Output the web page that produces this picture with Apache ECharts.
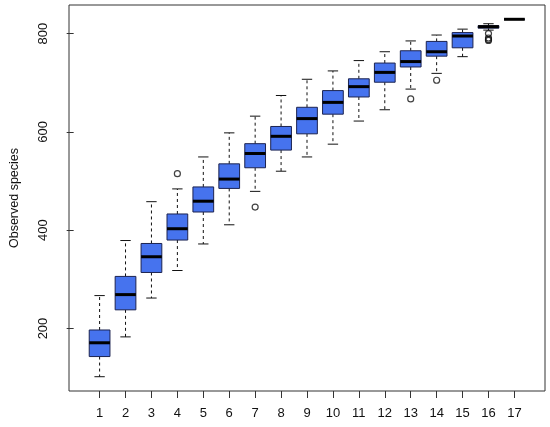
<!DOCTYPE html>
<html>
<head>
<meta charset="utf-8">
<script src="https://cdn.jsdelivr.net/npm/echarts@6/dist/echarts.min.js"></script>
<style>
  html, body { margin: 0; padding: 0; background: #fff; }
  #chart { width: 550px; height: 427px; }
</style>
</head>
<body>
<div id="chart"></div>
<script>
// samples (x positions) and five-number summaries
var categories = [1, 2, 3, 4, 5, 6, 7, 8, 9, 10, 11, 12, 13, 14, 15, 16, 17];
var lowWhisker = [102, 183, 262, 318, 372, 411, 479, 520, 549, 575, 622, 645, 687, 719, 753, 807, 829];
var lowerQuart = [143, 238, 314, 380, 437, 485, 527, 563, 596, 636, 671, 701, 732, 754, 771, 811, 829];
var medians    = [171, 269, 346, 403, 459, 504, 556, 591, 627, 660, 692, 721, 743, 763, 795, 814, 829];
var upperQuart = [197, 306, 373, 433, 488, 535, 576, 611, 650, 684, 708, 740, 765, 784, 802, 816, 829];
var highWhisker = [267, 379, 458, 484, 549, 598, 632, 674, 707, 724, 745, 763, 785, 797, 809, 820, 829];
var outlierX = [4, 7, 13, 14, 16, 16, 16, 16];
var outlierY = [515, 447, 667, 705, 800, 791, 788, 786];
var yTicks = [200, 400, 600, 800];

var boxWex = 0.8;

var boxData = categories.map(function (c, i) {
  return [c, lowWhisker[i], lowerQuart[i], medians[i], upperQuart[i], highWhisker[i]];
});
var outlierData = outlierX.map(function (x, i) { return [x, outlierY[i]]; });

// axis ranges like R: data range padded by 4%
var allY = lowWhisker.concat(highWhisker, outlierY);
var yLo = Math.min.apply(null, allY), yHi = Math.max.apply(null, allY);
var yPad = (yHi - yLo) * 0.04;
var xPad = categories.length * 0.04;

function renderBox(params, api) {
  var x = api.value(0);
  var lo = api.coord([x, api.value(1)]);
  var q1 = api.coord([x, api.value(2)]);
  var md = api.coord([x, api.value(3)]);
  var q3 = api.coord([x, api.value(4)]);
  var hi = api.coord([x, api.value(5)]);
  var w = api.size([boxWex, 0])[0];
  var cx = md[0];
  var dash = { stroke: '#111', lineWidth: 1, lineDash: [3, 3] };
  var solid = { stroke: '#111', lineWidth: 1 };
  return {
    type: 'group',
    children: [
      { type: 'line', shape: { x1: cx, y1: q3[1], x2: cx, y2: hi[1] }, style: dash },
      { type: 'line', shape: { x1: cx, y1: q1[1], x2: cx, y2: lo[1] }, style: dash },
      { type: 'line', shape: { x1: cx - w / 4, y1: hi[1], x2: cx + w / 4, y2: hi[1] }, style: solid },
      { type: 'line', shape: { x1: cx - w / 4, y1: lo[1], x2: cx + w / 4, y2: lo[1] }, style: solid },
      { type: 'rect', shape: { x: cx - w / 2, y: q3[1], width: w, height: q1[1] - q3[1] },
        style: { fill: '#4673ee', stroke: '#1c2350', lineWidth: 1 } },
      { type: 'line', shape: { x1: cx - w / 2, y1: md[1], x2: cx + w / 2, y2: md[1] },
        style: { stroke: '#000', lineWidth: 3 } }
    ]
  };
}

var chart = echarts.init(document.getElementById('chart'));
chart.setOption({
  animation: false,
  textStyle: { fontFamily: 'Liberation Sans, Arial, sans-serif' },
  grid: {
    left: 60, right: 5, top: 5, bottom: 36,
    show: true, borderColor: '#333', borderWidth: 1, backgroundColor: '#fff'
  },
  xAxis: {
    type: 'value',
    min: 0.5 - xPad,
    max: categories.length + 0.5 + xPad,
    splitLine: { show: false },
    axisLine: { show: false },
    axisTick: { show: true, length: 7, lineStyle: { color: '#333' }, customValues: categories },
    axisLabel: { color: '#111', fontSize: 13, margin: 16, customValues: categories }
  },
  yAxis: {
    type: 'value',
    min: yLo - yPad,
    max: yHi + yPad,
    name: 'Observed species',
    nameLocation: 'middle',
    nameRotate: 90,
    nameGap: 48,
    nameTextStyle: { color: '#111', fontSize: 12.5 },
    splitLine: { show: false },
    axisLine: { show: false },
    axisTick: { show: true, length: 7, lineStyle: { color: '#333' }, customValues: yTicks },
    axisLabel: { color: '#111', fontSize: 13, rotate: 90, margin: 19, customValues: yTicks }
  },
  series: [
    {
      type: 'custom',
      renderItem: renderBox,
      data: boxData,
      encode: { x: 0, y: [1, 2, 3, 4, 5] },
      clip: false
    },
    {
      type: 'scatter',
      data: outlierData,
      symbol: 'circle',
      symbolSize: 6,
      itemStyle: { color: 'rgba(0,0,0,0)', borderColor: '#111', borderWidth: 1.2 }
    }
  ]
});
</script>
</body>
</html>
